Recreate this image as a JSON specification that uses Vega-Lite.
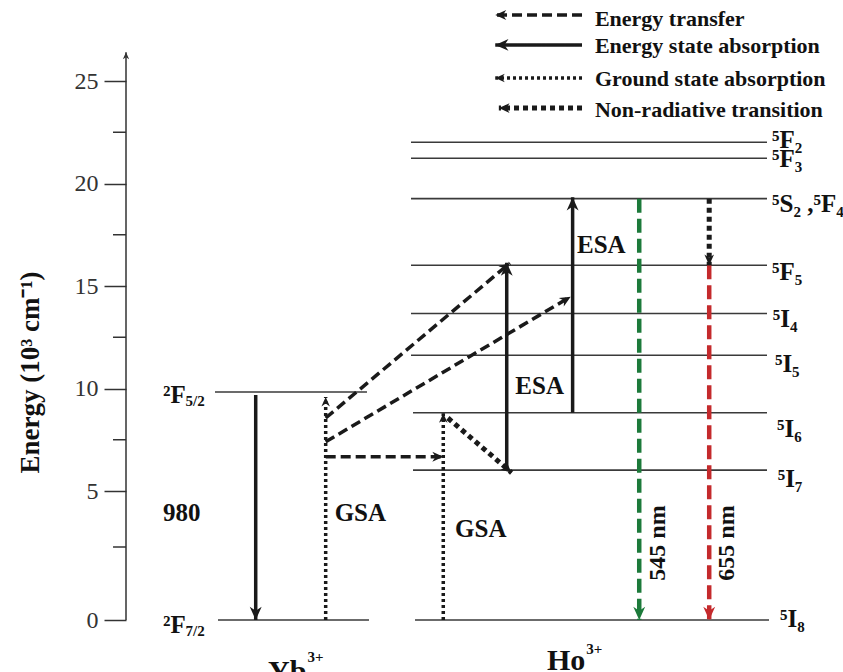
{
  "$schema": "https://vega.github.io/schema/vega-lite/v6.json",
  "width": 717,
  "height": 672,
  "autosize": {"type": "none"},
  "padding": {"left": 126, "top": 0, "right": 0, "bottom": 0},
  "background": "white",
  "config": {
    "view": {"stroke": null},
    "text": {"font": "Liberation Serif", "fontWeight": "bold", "color": "#111111"}
  },
  "datasets": {
    "levels": [
      {"term": "2F7/2", "x": 12.83, "x2": 33.89, "y": 0},
      {"term": "2F5/2", "x": 12.41, "x2": 33.61, "y": 9.83},
      {"term": "5I8", "x": 40.31, "x2": 89.68, "y": 0},
      {"term": "5I7", "x": 40.03, "x2": 89.4, "y": 6.02},
      {"term": "5I6", "x": 40.03, "x2": 89.4, "y": 8.82},
      {"term": "5I5", "x": 39.75, "x2": 89.4, "y": 11.62},
      {"term": "5I4", "x": 39.75, "x2": 89.4, "y": 13.66},
      {"term": "5F5", "x": 39.75, "x2": 89.4, "y": 16.01},
      {"term": "5S2,5F4", "x": 39.75, "x2": 89.4, "y": 19.26},
      {"term": "5F3", "x": 39.75, "x2": 89.4, "y": 21.23},
      {"term": "5F2", "x": 39.75, "x2": 89.4, "y": 22.01}
    ],
    "minor": [
      {"x": -1.81, "x2": 0, "y": 2.5},
      {"x": -1.81, "x2": 0, "y": 7.5},
      {"x": -1.81, "x2": 0, "y": 12.5},
      {"x": -1.81, "x2": 0, "y": 17.5},
      {"x": -1.81, "x2": 0, "y": 22.5}
    ],
    "arrows": [
      {"kind": "axis", "x": 0, "y": 0, "x2": 0, "y2": 26.4, "heading": 0},
      {"kind": "energy state absorption", "x": 18.09, "y": 9.68, "x2": 18.09, "y2": 0, "heading": 180},
      {"kind": "ground state absorption", "x": 27.85, "y": 0, "x2": 27.85, "y2": 9.59, "heading": 0},
      {"kind": "energy transfer", "x": 27.85, "y": 8.56, "x2": 53.55, "y2": 16.12, "heading": 49.8},
      {"kind": "energy transfer", "x": 27.85, "y": 7.4, "x2": 62.02, "y2": 14.48, "heading": 59.4},
      {"kind": "energy transfer", "x": 27.85, "y": 6.67, "x2": 44.25, "y2": 6.67, "heading": 90},
      {"kind": "ground state absorption", "x": 44.25, "y": 0, "x2": 44.25, "y2": 8.79, "heading": 0},
      {"kind": "non-radiative transition", "x": 44.9, "y": 8.56, "x2": 53.79, "y2": 5.89, "heading": 130.7},
      {"kind": "energy state absorption", "x": 53.1, "y": 6.02, "x2": 53.1, "y2": 16.14, "heading": 0},
      {"kind": "energy state absorption", "x": 62.29, "y": 8.82, "x2": 62.29, "y2": 19.33, "heading": 0},
      {"kind": "545 nm emission", "x": 71.58, "y": 19.26, "x2": 71.58, "y2": 0, "heading": 180},
      {"kind": "655 nm emission", "x": 81.34, "y": 16.01, "x2": 81.34, "y2": 0, "heading": 180},
      {"kind": "non-radiative transition", "x": 81.34, "y": 19.26, "x2": 81.34, "y2": 16.01, "heading": 180},
      {"kind": "energy transfer", "x": 63.6, "y": 28.22, "x2": 51.5, "y2": 28.22, "heading": 270},
      {"kind": "energy state absorption", "x": 63.6, "y": 26.76, "x2": 51.5, "y2": 26.76, "heading": 270},
      {"kind": "ground state absorption", "x": 63.6, "y": 25.15, "x2": 51.5, "y2": 25.15, "heading": 270},
      {"kind": "non-radiative transition", "x": 63.6, "y": 23.68, "x2": 52.0, "y2": 23.68, "heading": 270}
    ],
    "levelLabels": [
      {"text": "⁵F₂", "x": 90.1, "y": 21.73},
      {"text": "⁵F₃", "x": 90.1, "y": 20.8},
      {"text": "⁵S₂ ,⁵F₄", "x": 90.1, "y": 18.61},
      {"text": "⁵F₅", "x": 90.1, "y": 15.29},
      {"text": "⁵I₄", "x": 90.2, "y": 13.0},
      {"text": "⁵I₅", "x": 90.5, "y": 10.8},
      {"text": "⁵I₆", "x": 90.8, "y": 7.63},
      {"text": "⁵I₇", "x": 90.9, "y": 5.2},
      {"text": "⁵I₈", "x": 91.2, "y": -0.24},
      {"text": "²F", "x": 5.16, "y": 9.29},
      {"text": "²F", "x": 5.16, "y": -0.45},
      {"text": "980", "x": 5.16, "y": 3.68},
      {"text": "GSA", "x": 29.1, "y": 3.68},
      {"text": "GSA", "x": 45.9, "y": 2.95},
      {"text": "ESA", "x": 54.3, "y": 9.73},
      {"text": "ESA", "x": 62.9, "y": 16.61}
    ],
    "small": [
      {"text": "5/2", "x": 8.3, "y": 9.15},
      {"text": "7/2", "x": 8.3, "y": -0.55},
      {"text": "3+", "x": 25.3, "y": -1.45},
      {"text": "3+", "x": 64.2, "y": -1.16}
    ],
    "ions": [
      {"text": "Yb", "x": 19.8, "y": -2.08},
      {"text": "Ho", "x": 58.7, "y": -1.71}
    ],
    "legendText": [
      {"text": "Energy transfer", "x": 65.4, "y": 27.68},
      {"text": "Energy state absorption", "x": 65.4, "y": 26.37},
      {"text": "Ground state absorption", "x": 65.4, "y": 24.76},
      {"text": "Non-radiative transition", "x": 65.4, "y": 23.24}
    ],
    "rotated": [
      {"text": "545 nm", "x": 74.2, "y": 2.68},
      {"text": "655 nm", "x": 83.8, "y": 2.68}
    ]
  },
  "encoding": {
    "x": {"field": "x", "type": "quantitative", "scale": {"domain": [0, 100], "nice": false, "zero": false}, "axis": null},
    "y": {
      "field": "y", "type": "quantitative",
      "scale": {"domain": [0, 2.5, 5, 25], "range": [620, 547, 491, 81], "nice": false, "zero": false},
      "axis": {
        "values": [0, 5, 10, 15, 20, 25],
        "domain": false, "grid": false,
        "tickSize": 22, "tickWidth": 1.5, "tickColor": "#333333",
        "labelFont": "Liberation Serif", "labelFontSize": 24, "labelColor": "#333333", "labelPadding": 6,
        "labelFontWeight": "normal", "labelFlush": false, "labelOverlap": false,
        "title": "Energy (10³ cm⁻¹)",
        "titleFont": "Liberation Serif", "titleFontSize": 27, "titleFontWeight": "bold", "titleColor": "#111111",
        "titleX": -96, "titleY": 372, "titleAngle": 270, "titleAlign": "center", "titleBaseline": "middle"
      }
    }
  },
  "layer": [
    {
      "data": {"name": "levels"},
      "mark": {"type": "rule", "color": "#3a3a3a", "strokeWidth": 1.6},
      "encoding": {"x2": {"field": "x2"}}
    },
    {
      "data": {"name": "minor"},
      "mark": {"type": "rule", "color": "#333333", "strokeWidth": 1.5},
      "encoding": {"x2": {"field": "x2"}}
    },
    {
      "data": {"name": "arrows"},
      "mark": {"type": "rule", "strokeCap": "butt"},
      "encoding": {
        "x2": {"field": "x2"},
        "y2": {"field": "y2"},
        "color": {"field": "kind", "type": "nominal", "legend": null,
          "scale": {"domain": ["energy transfer", "energy state absorption", "ground state absorption", "non-radiative transition", "545 nm emission", "655 nm emission", "axis"],
                    "range": ["#1a1a1a", "#1a1a1a", "#1a1a1a", "#1a1a1a", "#1c7a3a", "#c42a2c", "#333333"]}},
        "strokeDash": {"field": "kind", "type": "nominal", "legend": null,
          "scale": {"domain": ["energy transfer", "energy state absorption", "ground state absorption", "non-radiative transition", "545 nm emission", "655 nm emission", "axis"],
                    "range": [[10, 5], [1, 0], [3, 3], [5, 4], [14, 6], [14, 6], [1, 0]]}},
        "strokeWidth": {"field": "kind", "type": "ordinal", "legend": null,
          "scale": {"type": "ordinal", "domain": ["energy transfer", "energy state absorption", "ground state absorption", "non-radiative transition", "545 nm emission", "655 nm emission", "axis"],
                    "range": [3.5, 3.5, 3.5, 5, 4.5, 4.5, 1.5]}}
      }
    },
    {
      "data": {"name": "arrows"},
      "mark": {"type": "point", "shape": "M0,0 L0.45,1 L0,0.7 L-0.45,1 Z", "filled": true, "opacity": 1, "strokeWidth": 0},
      "encoding": {
        "x": {"field": "x2", "type": "quantitative", "scale": {"domain": [0, 100], "nice": false, "zero": false}, "axis": null},
        "y": {
          "field": "y2", "type": "quantitative",
          "scale": {"domain": [0, 2.5, 5, 25], "range": [620, 547, 491, 81], "nice": false, "zero": false},
          "axis": {
            "values": [0, 5, 10, 15, 20, 25],
            "domain": false, "grid": false,
            "tickSize": 22, "tickWidth": 1.5, "tickColor": "#333333",
            "labelFont": "Liberation Serif", "labelFontSize": 24, "labelColor": "#333333", "labelPadding": 6,
            "labelFontWeight": "normal", "labelFlush": false, "labelOverlap": false,
            "title": "Energy (10³ cm⁻¹)",
            "titleFont": "Liberation Serif", "titleFontSize": 27, "titleFontWeight": "bold", "titleColor": "#111111",
            "titleX": -96, "titleY": 372, "titleAngle": 270, "titleAlign": "center", "titleBaseline": "middle"
          }
        },
        "angle": {"field": "heading", "type": "quantitative", "scale": null},
        "color": {"field": "kind", "type": "nominal", "legend": null,
          "scale": {"domain": ["energy transfer", "energy state absorption", "ground state absorption", "non-radiative transition", "545 nm emission", "655 nm emission", "axis"],
                    "range": ["#1a1a1a", "#1a1a1a", "#1a1a1a", "#1a1a1a", "#1c7a3a", "#c42a2c", "#333333"]}},
        "size": {"field": "kind", "type": "ordinal", "legend": null,
          "scale": {"type": "ordinal", "domain": ["energy transfer", "energy state absorption", "ground state absorption", "non-radiative transition", "545 nm emission", "655 nm emission", "axis"],
                    "range": [480, 700, 360, 460, 700, 700, 196]}}
      }
    },
    {
      "data": {"name": "levelLabels"},
      "mark": {"type": "text", "align": "left", "baseline": "alphabetic", "fontSize": 25},
      "encoding": {"text": {"field": "text"}}
    },
    {
      "data": {"name": "small"},
      "mark": {"type": "text", "align": "left", "baseline": "alphabetic", "fontSize": 15},
      "encoding": {"text": {"field": "text"}}
    },
    {
      "data": {"name": "ions"},
      "mark": {"type": "text", "align": "left", "baseline": "alphabetic", "fontSize": 30},
      "encoding": {"text": {"field": "text"}}
    },
    {
      "data": {"name": "legendText"},
      "mark": {"type": "text", "align": "left", "baseline": "alphabetic", "fontSize": 22},
      "encoding": {"text": {"field": "text"}}
    },
    {
      "data": {"name": "rotated"},
      "mark": {"type": "text", "align": "center", "baseline": "middle", "fontSize": 24, "angle": 270},
      "encoding": {"text": {"field": "text"}}
    }
  ]
}
